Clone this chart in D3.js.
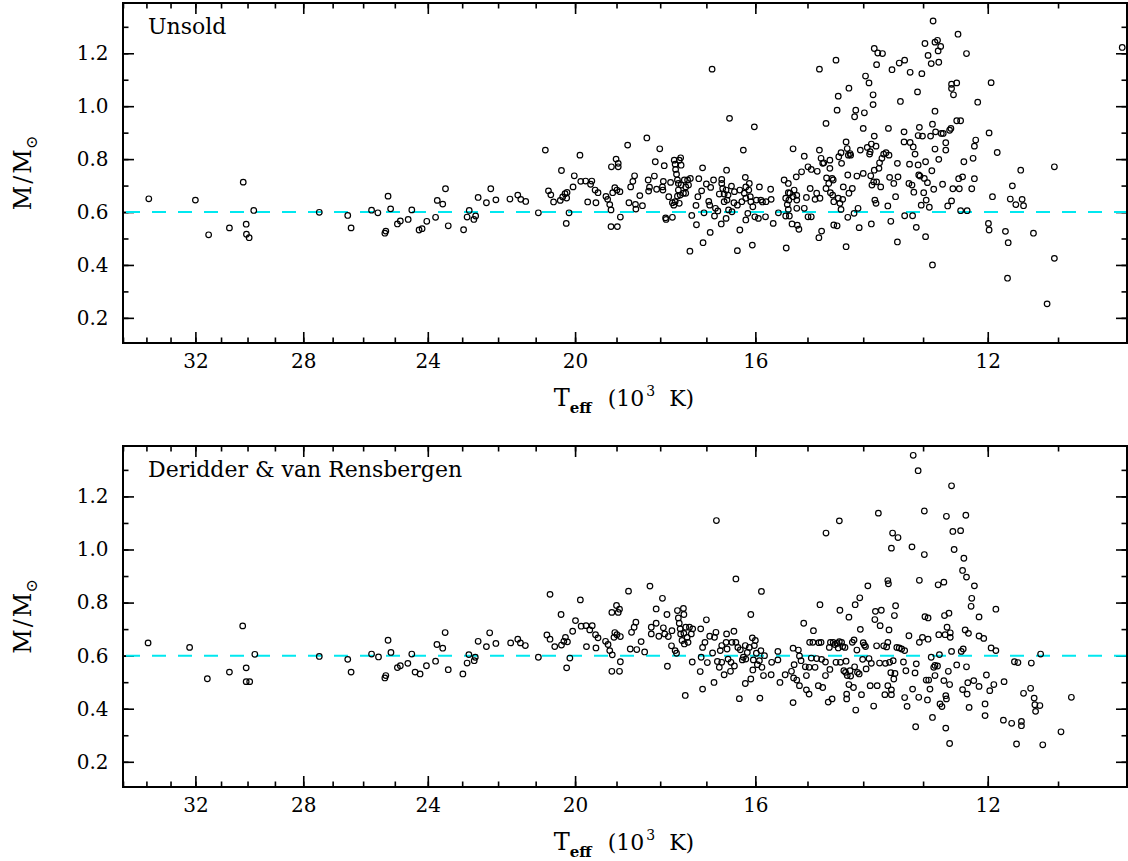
<!DOCTYPE html>
<html>
<head>
  <meta charset="UTF-8">
  <title>M/Msun vs Teff</title>
  <style>
    body { margin: 0; background: #fff; }
    svg { display: block; }
    text { font-family: "DejaVu Serif", serif; fill: #000; }
    .tick text { font-size: 20px; font-family: "DejaVu Serif", serif; }
    .title { font-size: 22px; }
  </style>
</head>
<body>
<svg></svg>
<script src="https://d3js.org/d3.v7.min.js"></script>
<script>
const width = 1128, height = 861;

// axis ticks (Teff in 10^3 K, mass in solar units)
const xMajor = [32, 28, 24, 20, 16, 12];
const xMinor = d3.range(11, 36);
const yMajor = [0.2, 0.4, 0.6, 0.8, 1.0, 1.2];
const yMinor = [0.2, 0.3, 0.4, 0.5, 0.6, 0.7, 0.8, 0.9, 1.0, 1.1, 1.2, 1.3];
const refMass = 0.6;

// [Teff, M/Msun]
const unsoldPoints = [
  [33.9,0.65],[32.0,0.645],[31.48,0.514],[30.68,0.54],[30.16,0.713],[30.05,0.554],[30.04,0.516],[29.94,0.503],[29.77,0.606],
  [27.45,0.599],[26.5,0.587],[26.39,0.54],[25.73,0.607],[25.53,0.597],[25.31,0.52],[25.28,0.528],[25.21,0.66],[25.13,0.612],
  [24.92,0.555],[24.83,0.566],[24.59,0.572],[24.48,0.608],[24.26,0.532],[24.17,0.537],[24.03,0.565],[23.77,0.58],[23.72,0.644],
  [23.56,0.63],[23.48,0.688],[23.4,0.548],[22.96,0.533],[22.86,0.581],[22.8,0.606],[22.67,0.572],[22.62,0.585],[22.55,0.655],
  [22.32,0.635],[22.2,0.688],[22.06,0.646],[21.68,0.649],[21.47,0.664],[21.39,0.648],[21.26,0.64],[20.93,0.597],[20.75,0.834],
  [20.67,0.68],[20.61,0.665],[20.54,0.638],[20.37,0.644],[20.34,0.757],[20.31,0.657],[20.25,0.669],[20.21,0.653],[20.2,0.674],
  [20.22,0.557],[20.15,0.597],[20.05,0.695],[20.02,0.737],
  [19.88,0.815],[19.86,0.716],[19.74,0.717],[19.69,0.638],[19.62,0.705],[19.59,0.717],[19.51,0.683],[19.49,0.635],[19.44,0.673],
  [19.25,0.659],[19.21,0.648],[19.16,0.628],[19.12,0.771],[19.13,0.608],[19.13,0.545],[19.09,0.673],[19.04,0.692],[19.01,0.8],
  [18.99,0.683],[18.96,0.784],[18.96,0.771],[18.98,0.545],[18.92,0.677],[18.91,0.581],[18.74,0.853],[18.71,0.635],[18.67,0.695],
  [18.62,0.716],[18.58,0.737],[18.56,0.629],[18.55,0.611],[18.46,0.662],[18.4,0.624],[18.3,0.88],[18.27,0.721],[18.26,0.679],
  [18.24,0.694],[18.13,0.736],[18.11,0.79],[18.08,0.686],[18.01,0.839],
  [17.95,0.695],[17.93,0.716],[17.91,0.775],[17.94,0.683],[17.88,0.578],[17.87,0.572],[17.77,0.712],[17.81,0.658],[17.73,0.635],
  [17.7,0.626],[17.69,0.796],[17.66,0.761],[17.67,0.781],[17.64,0.743],[17.62,0.721],[17.58,0.796],[17.55,0.805],[17.54,0.777],
  [17.6,0.708],[17.6,0.683],[17.56,0.664],[17.54,0.702],[17.49,0.671],[17.47,0.721],[17.44,0.695],[17.4,0.721],[17.38,0.702],
  [17.34,0.727],[17.44,0.671],[17.62,0.66],[17.67,0.639],[17.58,0.633],[17.73,0.58],[17.31,0.587],[17.35,0.452],[17.21,0.552],
  [17.22,0.625],[17.18,0.658],[17.16,0.726],[17.1,0.68],[17.08,0.767],[17.07,0.484],[17.0,0.706],[17.05,0.597],
  [16.95,0.64],[16.93,0.626],[16.92,0.523],[16.91,0.693],[16.88,1.14],[16.85,0.721],[16.83,0.585],[16.81,0.614],[16.76,0.604],
  [16.73,0.668],[16.69,0.555],[16.68,0.723],[16.68,0.708],[16.66,0.689],[16.63,0.639],[16.63,0.668],[16.59,0.683],[16.58,0.758],
  [16.57,0.645],[16.55,0.664],[16.54,0.608],[16.59,0.576],[16.52,0.954],[16.48,0.698],[16.47,0.601],[16.42,0.677],[16.43,0.635],
  [16.36,0.626],[16.36,0.454],[16.31,0.532],[16.31,0.683],[16.27,0.639],[16.24,0.834],[16.22,0.671],[16.2,0.731],[16.19,0.695],
  [16.19,0.652],[16.19,0.57],[16.15,0.595],[16.13,0.683],[16.12,0.708],[16.1,0.658],[16.09,0.639],[16.06,0.475],[16.05,0.62],
  [16.02,0.922],[16.01,0.582],
  [15.98,0.645],[15.94,0.576],[15.92,0.695],[15.89,0.645],[15.86,0.638],[15.8,0.582],[15.79,0.639],[15.7,0.686],[15.69,0.648],
  [15.65,0.557],[15.55,0.597],[15.44,0.721],[15.41,0.652],[15.4,0.464],[15.36,0.708],[15.36,0.673],[15.33,0.671],[15.25,0.683],
  [15.2,0.663],[15.2,0.645],[15.27,0.658],[15.35,0.645],[15.38,0.628],[15.36,0.61],[15.41,0.585],[15.34,0.585],[15.29,0.555],
  [15.19,0.55],[15.16,0.535],[15.27,0.839],[15.21,0.733],[15.2,0.614],[15.11,0.752],[15.06,0.811],[15.06,0.614],[15.02,0.655],
  [14.99,0.771],[14.99,0.582],[14.93,0.582],[14.93,0.761],[14.95,0.689],[14.83,0.671],[14.86,0.648],[14.82,0.754],[14.79,0.503],
  [14.78,1.14],[14.78,0.834],[14.77,0.652],[14.75,0.803],[14.74,0.528],[14.72,0.784],[14.7,0.786],[14.66,0.935],[14.66,0.689],
  [14.65,0.729],[14.61,0.708],[14.59,0.796],[14.59,0.765],[14.58,0.673],[14.55,0.727],[14.53,0.721],[14.54,0.664],[14.52,0.639],
  [14.52,0.551],[14.48,1.174],[14.46,0.548],[14.44,1.038],[14.46,0.985],[14.44,0.652],[14.43,0.809],[14.41,0.633],[14.39,0.824],
  [14.39,0.61],[14.38,0.784],[14.36,0.648],[14.35,0.695],[14.3,0.865],[14.3,0.469],[14.28,0.84],[14.27,0.74],[14.26,0.815],
  [14.27,0.58],[14.25,0.671],[14.25,1.068],[14.23,0.821],[14.22,0.815],[14.19,0.689],[14.16,0.595],[14.15,0.96],[14.13,0.985],
  [14.11,0.736],[14.09,0.614],[14.07,0.541],[14.05,0.834],[14.0,0.916],[14.0,0.746],
  [13.98,0.975],[13.96,1.114],[13.93,0.844],[13.9,1.088],[13.89,0.819],[13.88,0.828],[13.87,0.737],[13.86,0.555],[13.86,0.857],
  [13.85,0.702],[13.83,1.006],[13.83,1.043],[13.82,0.714],[13.81,1.218],[13.81,0.887],[13.81,0.758],[13.8,0.645],[13.78,0.849],
  [13.78,0.633],[13.77,1.157],[13.77,0.714],[13.75,1.201],[13.73,0.765],[13.72,0.786],[13.7,0.695],[13.68,0.803],[13.67,1.199],
  [13.65,0.819],[13.61,0.824],[13.58,0.623],[13.57,0.916],[13.56,0.815],[13.55,0.731],[13.53,0.565],[13.51,1.138],[13.48,0.708],
  [13.45,0.658],[13.42,0.784],[13.42,0.487],[13.41,0.733],[13.39,1.163],[13.37,1.018],[13.31,0.903],[13.31,0.865],[13.3,1.174],
  [13.3,0.586],[13.23,0.708],[13.22,0.781],[13.21,0.863],[13.21,1.128],[13.18,0.702],[13.17,0.586],[13.16,0.846],[13.15,0.675],
  [13.13,0.819],[13.11,0.542],[13.09,1.054],[13.08,0.778],[13.08,0.889],[13.07,0.74],[13.06,0.92],[13.05,0.736],[13.03,0.626],
  [13.02,1.123],[13.01,0.887],
  [12.99,0.673],[12.98,0.727],[12.97,1.237],[12.96,0.79],[12.95,0.645],[12.96,0.507],[12.93,0.711],[12.92,1.192],[12.9,0.618],
  [12.88,0.887],[12.87,1.161],[12.86,0.756],[12.85,0.4],[12.85,0.932],[12.84,1.322],[12.83,0.686],[12.81,0.981],[12.81,0.838],
  [12.8,0.903],[12.81,1.242],[12.77,1.249],[12.76,1.209],[12.75,1.166],[12.75,0.799],[12.72,1.226],[12.71,0.897],[12.69,0.705],
  [12.68,0.897],[12.64,0.862],[12.64,0.834],[12.61,0.623],[12.58,0.909],[12.56,0.916],[12.55,0.642],[12.55,1.083],[12.55,1.067],
  [12.53,0.688],[12.52,1.043],[12.47,1.088],[12.47,0.945],[12.45,1.272],[12.44,0.726],[12.43,0.688],[12.41,0.945],[12.41,0.605],
  [12.38,0.733],[12.36,0.79],[12.32,1.199],[12.31,0.605],[12.24,0.688],[12.22,0.803],[12.2,0.726],[12.2,0.849],[12.18,0.872],
  [12.15,1.015],
  [11.99,0.557],[11.98,0.532],[11.98,0.899],[11.95,1.089],[11.93,0.658],[11.86,0.825],[11.74,0.527],[11.7,0.484],[11.71,0.35],
  [11.67,0.649],[11.64,0.699],[11.59,0.628],[11.52,0.758],[11.5,0.648],[11.48,0.624],[11.34,0.52],[11.15,0.253],[11.05,0.771],
  [11.05,0.425],[10.16,1.222]
];

const deridderPoints = [
  [33.93,0.648],[32.23,0.631],[31.53,0.513],[30.68,0.538],[30.18,0.712],[30.05,0.554],[30.05,0.502],[29.92,0.502],[29.73,0.605],
  [27.45,0.597],[26.5,0.586],[26.39,0.538],[25.73,0.606],[25.51,0.595],[25.31,0.516],[25.28,0.525],[25.21,0.658],[25.12,0.612],
  [24.92,0.555],[24.83,0.562],[24.6,0.571],[24.48,0.606],[24.38,0.538],[24.23,0.531],[24.04,0.562],[23.77,0.579],[23.73,0.642],
  [23.56,0.628],[23.49,0.687],[23.4,0.547],[22.98,0.531],[22.86,0.572],[22.81,0.604],[22.66,0.581],[22.63,0.594],[22.55,0.654],
  [22.32,0.634],[22.23,0.686],[22.06,0.646],[21.66,0.648],[21.47,0.662],[21.4,0.648],[21.27,0.638],[20.93,0.594],[20.63,0.831],
  [20.71,0.678],[20.63,0.662],[20.51,0.634],[20.35,0.755],[20.34,0.64],[20.28,0.654],[20.24,0.669],[20.21,0.554],[20.19,0.652],
  [20.13,0.591],[20.06,0.692],[19.99,0.732],
  [19.87,0.81],[19.85,0.711],[19.73,0.713],[19.72,0.634],[19.64,0.697],[19.58,0.713],[19.5,0.679],[19.49,0.629],[19.44,0.667],
  [19.26,0.654],[19.2,0.642],[19.16,0.619],[19.11,0.763],[19.11,0.541],[19.1,0.603],[19.06,0.669],[19.04,0.687],[19.0,0.789],
  [18.99,0.679],[18.96,0.763],[18.93,0.775],[18.93,0.541],[18.91,0.672],[18.91,0.577],[18.72,0.843],[18.68,0.625],[18.65,0.688],
  [18.59,0.707],[18.55,0.726],[18.53,0.623],[18.43,0.653],[18.35,0.614],[18.23,0.862],[18.2,0.707],[18.2,0.682],[18.09,0.776],
  [18.09,0.722],[18.03,0.673],
  [17.95,0.816],[17.93,0.705],[17.9,0.682],[17.85,0.755],[17.84,0.56],[17.82,0.672],[17.74,0.694],[17.75,0.637],[17.67,0.619],
  [17.64,0.609],[17.62,0.77],[17.6,0.742],[17.58,0.722],[17.56,0.701],[17.55,0.682],[17.52,0.657],[17.49,0.778],[17.48,0.755],
  [17.48,0.684],[17.47,0.644],[17.44,0.707],[17.41,0.669],[17.39,0.65],[17.36,0.707],[17.32,0.682],[17.29,0.701],[17.3,0.576],
  [17.45,0.45],[17.13,0.54],[17.11,0.594],[17.12,0.701],[17.08,0.474],[17.08,0.631],[17.03,0.65],
  [17.0,0.735],[16.98,0.574],[16.93,0.673],[16.87,0.61],[16.84,0.499],[16.83,0.669],[16.8,0.688],[16.79,1.109],[16.77,0.578],
  [16.73,0.556],[16.71,0.619],[16.68,0.638],[16.68,0.575],[16.63,0.528],[16.59,0.65],[16.58,0.682],[16.57,0.625],[16.55,0.587],
  [16.5,0.541],[16.49,0.575],[16.47,0.65],[16.43,0.692],[16.42,0.561],[16.39,0.889],[16.39,0.65],[16.35,0.631],[16.32,0.438],
  [16.3,0.622],[16.26,0.584],[16.24,0.594],[16.2,0.638],[16.2,0.495],[16.19,0.587],[16.16,0.612],[16.12,0.631],[16.09,0.512],
  [16.09,0.755],[16.06,0.667],[16.05,0.546],[16.04,0.584],[16.02,0.638],
  [16.0,0.657],[15.98,0.609],[15.96,0.566],[15.92,0.581],[15.91,0.44],[15.89,0.619],[15.88,0.842],[15.87,0.556],[15.84,0.525],
  [15.82,0.6],[15.69,0.528],[15.68,0.575],[15.56,0.616],[15.56,0.584],[15.52,0.499],[15.42,0.528],[15.3,0.541],[15.27,0.423],
  [15.27,0.628],[15.25,0.566],[15.26,0.516],[15.2,0.508],[15.17,0.621],[15.15,0.599],[15.15,0.487],[15.12,0.581],[15.07,0.722],
  [15.04,0.558],[15.02,0.525],[15.02,0.471],
  [14.97,0.455],[14.97,0.556],[14.96,0.65],[14.93,0.591],[14.89,0.694],[14.9,0.65],[14.86,0.556],[14.83,0.589],[14.8,0.487],
  [14.79,0.649],[14.77,0.792],[14.75,0.65],[14.74,0.586],[14.72,0.48],[14.67,0.576],[14.67,0.525],[14.66,1.062],[14.62,0.425],
  [14.6,0.631],[14.59,0.548],[14.58,0.65],[14.55,0.437],[14.53,0.65],[14.5,0.642],[14.48,0.575],[14.46,0.646],[14.44,0.629],
  [14.42,0.653],[14.42,1.108],[14.41,0.771],[14.4,0.575],[14.38,0.65],[14.36,0.634],[14.34,0.543],[14.32,0.631],[14.31,0.537],
  [14.3,0.579],[14.29,0.455],[14.29,0.437],[14.28,0.525],[14.25,0.745],[14.25,0.491],[14.23,0.543],[14.22,0.523],[14.19,0.65],
  [14.17,0.48],[14.16,0.659],[14.15,0.558],[14.14,0.792],[14.13,0.395],[14.11,0.621],[14.1,0.537],[14.07,0.531],[14.06,0.818],
  [14.05,0.699],[14.03,0.453],[14.01,0.586],[14.0,0.649],
  [13.98,0.64],[13.96,0.634],[13.95,0.55],[13.92,0.863],[13.9,0.589],[13.88,0.487],[13.86,0.571],[13.82,0.41],[13.8,0.736],
  [13.79,0.767],[13.77,0.637],[13.76,0.487],[13.74,1.137],[13.72,0.572],[13.71,0.713],[13.69,0.771],[13.65,0.637],[13.63,0.453],
  [13.62,0.571],[13.6,0.633],[13.58,0.65],[13.58,0.487],[13.58,0.883],[13.57,0.871],[13.56,0.697],[13.55,0.575],[13.53,0.536],
  [13.52,0.471],[13.52,0.453],[13.52,1.005],[13.5,1.062],[13.49,0.581],[13.48,0.512],[13.47,0.751],[13.46,0.533],[13.45,0.788],
  [13.43,0.631],[13.41,1.045],[13.39,0.629],[13.35,0.625],[13.32,0.576],[13.3,0.619],[13.3,0.442],[13.28,0.543],[13.26,0.409],
  [13.23,0.675],[13.18,1.01],[13.17,0.474],[13.16,1.355],[13.13,0.535],[13.12,0.332],[13.11,0.569],[13.08,1.297],[13.07,0.443],
  [13.06,0.884],[13.06,0.65],[13.01,0.669],
  [12.98,0.981],[12.98,1.145],[12.97,0.747],[12.95,0.508],[12.93,0.433],[12.92,0.742],[12.92,0.662],[12.91,0.508],[12.89,0.474],
  [12.87,0.594],[12.85,0.367],[12.83,0.556],[12.81,0.525],[12.81,0.563],[12.77,0.561],[12.76,0.867],[12.75,0.679],[12.74,0.604],
  [12.73,0.418],[12.7,0.408],[12.67,0.877],[12.67,0.506],[12.66,0.751],[12.65,0.679],[12.64,0.449],[12.64,0.327],[12.63,1.125],
  [12.63,0.437],[12.62,0.707],[12.6,0.541],[12.59,0.76],[12.58,0.491],[12.58,0.269],[12.57,0.686],[12.57,0.669],[12.55,1.24],
  [12.55,0.616],[12.53,1.068],[12.51,1.0],[12.47,0.565],[12.41,1.071],[12.4,0.616],[12.38,0.472],[12.38,0.921],[12.37,0.625],
  [12.36,0.967],[12.34,0.697],[12.33,1.129],[12.32,0.896],[12.32,0.558],[12.31,0.455],[12.3,0.498],[12.29,0.684],[12.28,0.405],
  [12.25,0.786],[12.24,0.816],[12.21,0.506],[12.2,0.863],[12.13,0.746],[12.13,0.484],[12.13,0.674],[12.06,0.665],[12.04,0.418],
  [12.04,0.374],[12.02,0.527],
  [11.97,0.468],[11.95,0.629],[11.91,0.491],[11.88,0.619],[11.88,0.775],[11.77,0.357],[11.76,0.502],[11.65,0.345],[11.61,0.577],
  [11.56,0.574],[11.58,0.267],[11.51,0.352],[11.51,0.336],[11.48,0.458],[11.38,0.477],[11.37,0.572],[11.33,0.44],[11.32,0.415],
  [11.31,0.39],[11.25,0.412],[11.24,0.606],[11.21,0.264],[10.96,0.313],[10.82,0.443]
];

const svg = d3.select("svg")
    .attr("width", width)
    .attr("height", height);

const left = 123, right = 1127;

const x = d3.scaleLog()
    .domain([35, 10.1])
    .range([left, right]);

function drawPanel(top, bottom, points, label) {
  const y = d3.scaleLinear()
      .domain([0.105, 1.39])
      .range([bottom, top]);

  const g = svg.append("g");

  // minor ticks
  g.append("g")
      .attr("transform", "translate(0," + bottom + ")")
      .call(d3.axisBottom(x).tickValues(xMinor).tickSize(-5.5).tickFormat(""));
  g.append("g")
      .attr("transform", "translate(0," + top + ")")
      .call(d3.axisTop(x).tickValues(xMinor).tickSize(-5.5).tickFormat(""));
  g.append("g")
      .attr("transform", "translate(" + left + ",0)")
      .call(d3.axisLeft(y).tickValues(yMinor).tickSize(-5.5).tickFormat(""));
  g.append("g")
      .attr("transform", "translate(" + right + ",0)")
      .call(d3.axisRight(y).tickValues(yMinor).tickSize(-5.5).tickFormat(""));

  // major ticks with labels
  g.append("g")
      .attr("transform", "translate(0," + bottom + ")")
      .call(d3.axisBottom(x).tickValues(xMajor).tickSizeInner(-11).tickSizeOuter(0)
        .tickPadding(11).tickFormat(d3.format("d")));
  g.append("g")
      .attr("transform", "translate(0," + top + ")")
      .call(d3.axisTop(x).tickValues(xMajor).tickSize(-11).tickFormat(""));
  g.append("g")
      .attr("transform", "translate(" + left + ",0)")
      .call(d3.axisLeft(y).tickValues(yMajor).tickSizeInner(-11).tickSizeOuter(0)
        .tickPadding(14.5).tickFormat(d3.format(".1f")));
  g.append("g")
      .attr("transform", "translate(" + right + ",0)")
      .call(d3.axisRight(y).tickValues(yMajor).tickSize(-11).tickFormat(""));

  g.selectAll(".domain").remove();
  g.selectAll(".tick line").attr("stroke", "#000").attr("stroke-width", 1.6);
  g.selectAll(".tick text").attr("fill", "#000");

  // reference mass line
  g.append("line")
      .attr("x1", x(35)).attr("x2", x(10.1))
      .attr("y1", y(refMass)).attr("y2", y(refMass))
      .attr("stroke", "#00e8f0")
      .attr("stroke-width", 2)
      .attr("stroke-dasharray", "14 12")
      .attr("stroke-dashoffset", 23);

  // data
  g.append("g")
    .selectAll("circle")
    .data(points)
    .enter()
    .append("circle")
      .attr("cx", d => x(d[0]))
      .attr("cy", d => y(d[1]))
      .attr("r", 2.8)
      .attr("fill", "none")
      .attr("stroke", "#000")
      .attr("stroke-width", 1.2);

  // frame
  g.append("rect")
      .attr("x", left).attr("y", top)
      .attr("width", right - left).attr("height", bottom - top)
      .attr("fill", "none")
      .attr("stroke", "#000")
      .attr("stroke-width", 2);

  g.append("text")
      .attr("class", "title")
      .attr("x", 148).attr("y", top + 31)
      .text(label);

  // x axis title
  const xt = g.append("text")
      .attr("class", "title")
      .attr("x", 624).attr("y", bottom + 63)
      .attr("text-anchor", "middle");
  xt.append("tspan").attr("font-size", 24).text("T");
  xt.append("tspan").attr("font-size", 15).attr("font-weight", "bold").attr("dy", 7).text("eff");
  xt.append("tspan").attr("dy", -7).attr("dx", 16).text("(10");
  xt.append("tspan").attr("font-size", 14).attr("dy", -10).attr("dx", 2).text("3");
  xt.append("tspan").attr("dy", 10).attr("dx", 14).text("K)");

  // y axis title
  const yt = g.append("text")
      .style("font-size", "24px")
      .attr("transform", "translate(31," + ((top + bottom) / 2) + ") rotate(-90)")
      .attr("text-anchor", "middle");
  yt.append("tspan").text("M");
  yt.append("tspan").attr("dx", 2).text("/");
  yt.append("tspan").attr("dx", 2).text("M");
  yt.append("tspan").style("font-size", "16px").attr("dy", 6).text("\u2299");
}

drawPanel(3, 343, unsoldPoints, "Unsold");
drawPanel(446, 787, deridderPoints, "Deridder & van Rensbergen");
</script>
</body>
</html>
